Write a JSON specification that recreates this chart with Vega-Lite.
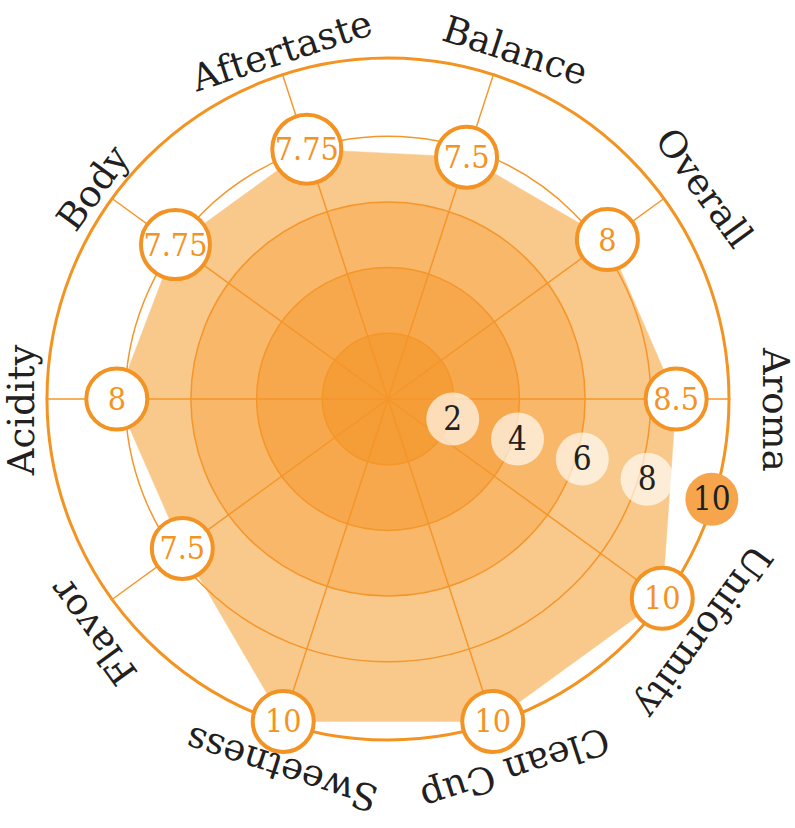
{
  "$schema": "https://vega.github.io/schema/vega-lite/v6.json",
  "width": 795,
  "height": 828,
  "padding": 0,
  "autosize": {"type": "none"},
  "background": "white",
  "config": {"view": {"stroke": null}},
  "datasets": {
    "scores": [
      {"attr": "Aroma", "score": 8.5},
      {"attr": "Uniformity", "score": 10},
      {"attr": "Clean Cup", "score": 10},
      {"attr": "Sweetness", "score": 10},
      {"attr": "Flavor", "score": 7.5},
      {"attr": "Acidity", "score": 8},
      {"attr": "Body", "score": 7.75},
      {"attr": "Aftertaste", "score": 7.75},
      {"attr": "Balance", "score": 7.5},
      {"attr": "Overall", "score": 8}
    ],
    "rings": [{"ring": 6}, {"ring": 4}, {"ring": 2}],
    "ring8": [{"ring": 8}],
    "ticks": [{"tick": 2}, {"tick": 4}, {"tick": 6}, {"tick": 8}, {"tick": 10}]
  },
  "layer": [
    {
      "data": {"name": "scores"},
      "transform": [
        {"window": [{"op": "row_number", "as": "rn"}]},
        {"calculate": "(datum.rn-1)*PI/5", "as": "ang"},
        {"calculate": "datum.score*cos(datum.ang)", "as": "px"},
        {"calculate": "-datum.score*sin(datum.ang)", "as": "py"}
      ],
      "mark": {"type": "line", "interpolate": "linear-closed", "filled": true, "fill": "#f9c98b", "stroke": "#f9c98b", "strokeWidth": 0.5},
      "encoding": {
        "x": {"field": "px", "type": "quantitative", "scale": {"domain": [-11.445, 12.006], "nice": false, "zero": false}, "axis": null},
        "y": {"field": "py", "type": "quantitative", "scale": {"domain": [-12.655, 11.770], "nice": false, "zero": false}, "axis": null},
        "order": {"field": "rn", "type": "quantitative"}
      }
    },
    {
      "data": {"name": "rings"},
      "transform": [
        {"calculate": "0", "as": "px"},
        {"calculate": "0", "as": "py"}
      ],
      "mark": {"type": "point", "shape": "circle", "filled": true, "stroke": "#f5962a", "strokeWidth": 1.5, "opacity": 1},
      "encoding": {
        "x": {"field": "px", "type": "quantitative"},
        "y": {"field": "py", "type": "quantitative"},
        "size": {"field": "ring", "type": "quantitative", "scale": {"type": "pow", "exponent": 2, "domain": [0, 10], "range": [0, 431649]}, "legend": null},
        "fill": {"field": "ring", "type": "ordinal", "scale": {"domain": [2, 4, 6], "range": ["#f59d36", "#f7a84c", "#f8b769"]}, "legend": null}
      }
    },
    {
      "data": {"name": "ring8"},
      "transform": [
        {"calculate": "0", "as": "px"},
        {"calculate": "0", "as": "py"}
      ],
      "mark": {"type": "point", "shape": "circle", "filled": false, "color": "#f5962a", "strokeWidth": 1.5, "opacity": 1},
      "encoding": {
        "x": {"field": "px", "type": "quantitative"},
        "y": {"field": "py", "type": "quantitative"},
        "size": {"field": "ring", "type": "quantitative", "legend": null}
      }
    },
    {
      "data": {"name": "ring8"},
      "transform": [
        {"calculate": "0", "as": "px"},
        {"calculate": "0", "as": "py"}
      ],
      "mark": {"type": "point", "shape": "circle", "filled": false, "color": "#f39321", "strokeWidth": 3, "opacity": 1, "size": 465124},
      "encoding": {
        "x": {"field": "px", "type": "quantitative"},
        "y": {"field": "py", "type": "quantitative"}
      }
    },
    {
      "data": {"name": "scores"},
      "transform": [
        {"window": [{"op": "row_number", "as": "rn"}]},
        {"calculate": "(datum.rn-1)*PI/5", "as": "ang"},
        {"calculate": "0", "as": "px"},
        {"calculate": "0", "as": "py"},
        {"calculate": "10.1*cos(datum.ang)", "as": "sx"},
        {"calculate": "-10.1*sin(datum.ang)", "as": "sy"}
      ],
      "mark": {"type": "rule", "color": "#f5962a", "strokeWidth": 1.5},
      "encoding": {
        "x": {"field": "px", "type": "quantitative"},
        "y": {"field": "py", "type": "quantitative"},
        "x2": {"field": "sx"},
        "y2": {"field": "sy"}
      }
    },
    {
      "data": {"name": "scores"},
      "transform": [
        {"window": [{"op": "row_number", "as": "rn"}]},
        {"calculate": "(datum.rn-1)*PI/5", "as": "ang"},
        {"calculate": "datum.score*cos(datum.ang)", "as": "px"},
        {"calculate": "-datum.score*sin(datum.ang)", "as": "py"}
      ],
      "mark": {"type": "point", "shape": "circle", "filled": true, "fill": "white", "stroke": "#f39323", "strokeWidth": 4, "opacity": 1},
      "encoding": {
        "x": {"field": "px", "type": "quantitative"},
        "y": {"field": "py", "type": "quantitative"},
        "size": {"condition": {"test": "datum.score === 7.75", "value": 4761}, "value": 3721}
      }
    },
    {
      "data": {"name": "scores"},
      "transform": [
        {"window": [{"op": "row_number", "as": "rn"}]},
        {"calculate": "(datum.rn-1)*PI/5", "as": "ang"},
        {"calculate": "datum.score*cos(datum.ang)", "as": "px"},
        {"calculate": "-datum.score*sin(datum.ang)", "as": "py"}
      ],
      "mark": {"type": "text", "font": "DejaVu Serif Condensed, DejaVu Serif", "fontSize": 32, "color": "#f39323", "align": "center", "baseline": "middle", "dy": 1},
      "encoding": {
        "x": {"field": "px", "type": "quantitative"},
        "y": {"field": "py", "type": "quantitative"},
        "text": {"field": "score", "type": "nominal"}
      }
    },
    {
      "data": {"name": "ticks"},
      "transform": [
        {"calculate": "datum.tick*cos(0.3)", "as": "px"},
        {"calculate": "-datum.tick*sin(0.3)", "as": "py"}
      ],
      "mark": {"type": "point", "shape": "circle", "filled": true, "strokeWidth": 0, "size": 2809},
      "encoding": {
        "x": {"field": "px", "type": "quantitative"},
        "y": {"field": "py", "type": "quantitative"},
        "fill": {"condition": {"test": "datum.tick === 10", "value": "#f6a54c"}, "value": "#ffffff"},
        "opacity": {"condition": {"test": "datum.tick === 10", "value": 1}, "value": 0.65}
      }
    },
    {
      "data": {"name": "ticks"},
      "transform": [
        {"calculate": "datum.tick*cos(0.3)", "as": "px"},
        {"calculate": "-datum.tick*sin(0.3)", "as": "py"}
      ],
      "mark": {"type": "text", "font": "DejaVu Serif Condensed, DejaVu Serif", "fontSize": 33, "color": "#231f20", "align": "center", "baseline": "middle", "dy": 1},
      "encoding": {
        "x": {"field": "px", "type": "quantitative"},
        "y": {"field": "py", "type": "quantitative"},
        "text": {"field": "tick", "type": "nominal"}
      }
    },
    {
      "data": {"name": "scores"},
      "transform": [
        {"window": [{"op": "row_number", "as": "rn"}]},
        {"calculate": "(datum.rn-1)*PI/5", "as": "ang"},
        {"calculate": "11.09*cos(datum.ang)+0.31", "as": "px"},
        {"calculate": "-11.09*sin(datum.ang)-0.32", "as": "py"},
        {"calculate": "((datum.rn-1)*36+90)%360", "as": "rot"}
      ],
      "mark": {"type": "text", "font": "DejaVu Serif", "fontSize": 37, "color": "#231f20", "align": "center", "baseline": "middle"},
      "encoding": {
        "x": {"field": "px", "type": "quantitative"},
        "y": {"field": "py", "type": "quantitative"},
        "angle": {"field": "rot", "type": "quantitative", "scale": null},
        "text": {"field": "attr", "type": "nominal"}
      }
    }
  ]
}
